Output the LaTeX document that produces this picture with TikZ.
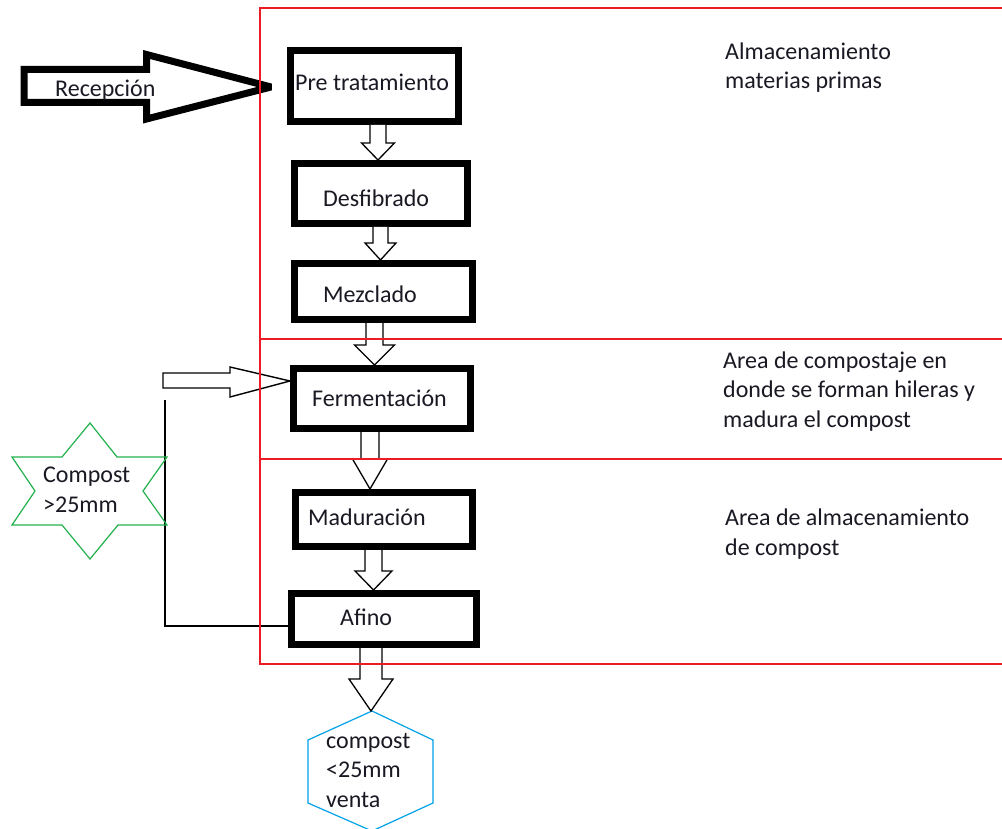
\documentclass[tikz,border=0pt]{standalone}
\usepackage{fontspec}
\setmainfont{Carlito}
\usetikzlibrary{calc}
\definecolor{zonered}{RGB}{237,28,36}
\definecolor{stargreen}{RGB}{34,177,76}
\definecolor{hexblue}{RGB}{0,162,232}
\definecolor{txt}{RGB}{25,25,35}
% block arrow: start point, end point, x centre, shaft half width, head half width, head length
\newcommand{\blockarr}[6]{%
  \draw[blockarrow] let \p1=(#1), \p2=(#2) in
    (#3pt-#4pt,\y1) -- (#3pt-#4pt,\y2+#6pt) -- (#3pt-#5pt,\y2+#6pt) -- (#3pt,\y2)
    -- (#3pt+#5pt,\y2+#6pt) -- (#3pt+#4pt,\y2+#6pt) -- (#3pt+#4pt,\y1);
}
\begin{document}
\begin{tikzpicture}[x=1pt,y=-1pt,
  box/.style={draw=black,line width=7pt,fill=white,inner sep=0pt},
  lbl/.style={anchor=base west,inner sep=0pt,text=txt,font=\fontsize{24}{29.5}\selectfont},
  mlbl/.style={lbl,align=left},
  blockarrow/.style={draw=black,line width=1.3pt,fill=white,line join=miter},
  bigarrow/.style={draw=black,line width=7pt,line join=miter,miter limit=3},
  thinarrow/.style={draw=black,line width=1.4pt,fill=white},
  thinline/.style={draw=black,line width=1.5pt},
  zone/.style={draw=zonered,line width=1.3pt},
  starline/.style={draw=stargreen,line width=1.2pt},
  hexline/.style={draw=hexblue,line width=1.2pt}]
\useasboundingbox (0,0) rectangle (1002,829);
\fill[white] (0,0) rectangle (1002,829);

% process boxes
\node[box,minimum width=168,minimum height=71] (pre)   at (374.5,86)  {};
\node[box,minimum width=173,minimum height=60] (desf)  at (381,193.5) {};
\node[box,minimum width=178,minimum height=56] (mezc)  at (383.5,291.5) {};
\node[box,minimum width=177,minimum height=60] (ferm)  at (382,398.5) {};
\node[box,minimum width=177,minimum height=54] (mad)   at (384,519.5) {};
\node[box,minimum width=185,minimum height=51] (afino) at (384,619)   {};

\node[lbl] (tpre)   at (295,91)  {Pre tratamiento};
\node[lbl] (tdesf)  at (323,207) {Desfibrado};
\node[lbl] (tmezc)  at (323,302) {Mezclado};
\node[lbl] (tferm)  at (312,406) {Fermentación};
\node[lbl] (tmad)   at (308,525) {Maduración};
\node[lbl] (tafino) at (340,625) {Afino};

% output hexagon (multi-line labels are anchored on their last line)
\coordinate (hextop) at (372,711);
\draw[hexline] (hextop) -- (433,740) -- (433,803) -- (372,831) -- (308,803) -- (308,740) -- cycle;
\node[mlbl] (thex) at (326,807) {compost\\<25mm\\venta};

% block arrows between steps
\blockarr{pre.south}{desf.north}{378}{8}{16.5}{17}
\blockarr{desf.south}{mezc.north}{380.5}{7.5}{15.5}{17}
\blockarr{mezc.south}{ferm.north}{374.5}{8.5}{20}{20}
\blockarr{ferm.south}{mad.north}{370}{9}{17.5}{30}
\blockarr{mad.south}{afino.north}{373.5}{8.5}{18.5}{19}
\blockarr{afino.south}{hextop}{371}{11}{22}{32}

% reception arrow
\coordinate (rtip) at ($(pre.west)+(-16,1)$);
\draw[bigarrow] (24,69.5) -- (146.5,69.5) -- (146.5,54.5) -- (rtip)
  -- (146.5,119) -- (146.5,102.5) -- (24,102.5) -- cycle;
\node[lbl] (trec) at (55,97) {Recepción};

% recirculation arrow into Fermentacion
\coordinate (ftip) at ($(ferm.west)+(0,-17.5)$);
\draw[thinarrow] (163,373) -- (230,373) -- (230,367) -- (ftip)
  -- (230,397) -- (230,388) -- (163,388) -- cycle;

% return line from Afino
\coordinate (lt) at (165,400);
\coordinate (lc) at (165,626);
\draw[thinline] (lt) -- (lc) -- (lc -| afino.west);

% star: compost > 25 mm
\draw[starline] (90,423) -- (117,457) -- (167,457) -- (143,491) -- (167,525)
  -- (118,525) -- (90,559) -- (62,525) -- (12,525) -- (35,491) -- (12,457)
  -- (62,457) -- cycle;
\node[mlbl] (tstar) at (43,512) {Compost\\>25mm};

% zones
\draw[zone] (1002,8) -- (260,8) -- (260,664) -- (1002,664);
\draw[zone] (260,339) -- (1002,339);
\draw[zone] (260,459) -- (1002,459);

\node[mlbl] (z1) at (725,89)  {Almacenamiento\\materias primas};
\node[mlbl] (z2) at (723,427) {Area de compostaje en\\donde se forman hileras y\\madura el compost};
\node[mlbl] (z3) at (725,555) {Area de almacenamiento\\de compost};
\end{tikzpicture}
\end{document}
